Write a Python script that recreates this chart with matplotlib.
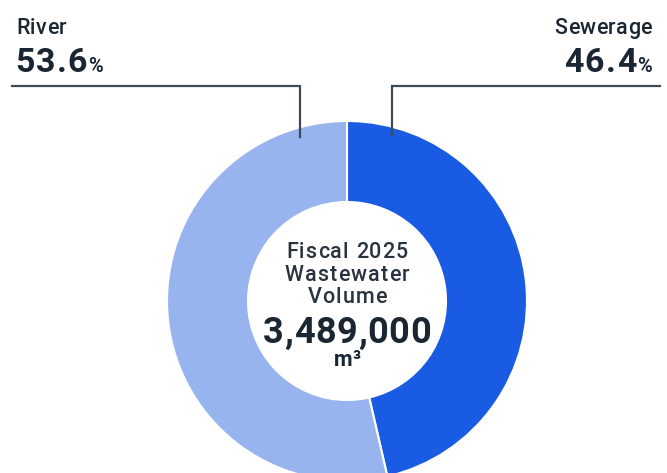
import matplotlib
matplotlib.use("Agg")
import matplotlib.pyplot as plt
from matplotlib.font_manager import FontProperties, findfont, get_font

plt.rcParams['font.family'] = ['Roboto', 'DejaVu Sans']

# Wastewater discharge destinations, fiscal 2025
labels = ["Sewerage", "River"]
shares = [46.4, 53.6]
colors = ["#1a5be3", "#97b4ee"]
total_volume = 3489000
caption = ["Fiscal 2025", "Wastewater", "Volume"]
unit = "m³"

W, H = 667, 473
DPI = 100
TEXT = "#1b2633"
LINE = "#3e4a55"


def py(y):
    # pixel row (top-down) -> axis y (bottom-up)
    return H - y


def advances(s, size, weight):
    prop = FontProperties(family="Roboto", size=size, weight=weight)
    font = get_font(findfont(prop))
    font.set_size(size, DPI)
    return [font.load_char(ord(ch)).linearHoriAdvance / 65536 for ch in s]


def spaced_text(ax, x, y, s, size, weight="bold", track=0.0, ha="left",
                color=TEXT):
    """Draw s one glyph at a time with extra letter spacing; returns (x0, x1)."""
    adv = advances(s, size, weight)
    total = sum(adv) + track * (len(s) - 1)
    if ha == "center":
        x0 = x - total / 2
    elif ha == "right":
        x0 = x - total
    else:
        x0 = x
    pos = x0
    for ch, a in zip(s, adv):
        ax.text(pos, py(y), ch, ha="left", va="baseline", fontsize=size,
                fontweight=weight, color=color)
        pos += a + track
    return x0, x0 + total


fig = plt.figure(figsize=(W / DPI, H / DPI), dpi=DPI)
ax = fig.add_axes([0, 0, 1, 1])

ax.pie(shares, colors=colors, startangle=90, counterclock=False,
       center=(347, py(301)), radius=180,
       wedgeprops=dict(width=81, edgecolor="white", linewidth=1.5))
ax.set_xlim(0, W)
ax.set_ylim(0, H)
ax.set_aspect("equal")
ax.axis("off")

# leader lines from the headings down to the ring
ax.plot([12, 300, 300], [py(86), py(86), py(137)], color=LINE, lw=1.6,
        solid_joinstyle="miter")
ax.plot([660, 392, 392], [py(86), py(86), py(135)], color=LINE, lw=1.6,
        solid_joinstyle="miter")

# headings
spaced_text(ax, 16, 34, labels[1], 15.5, weight="medium", track=0.4)
spaced_text(ax, 652, 34, labels[0], 15.5, weight="medium", track=0.4,
            ha="right")

# left value: number then a smaller percent sign
_, x1 = spaced_text(ax, 15, 72, f"{shares[1]:.1f}", 24.5, track=1.2)
spaced_text(ax, x1 + 1, 72, "%", 14.5)

# right value: percent sign flush right, number to its left
x0, _ = spaced_text(ax, 652, 72, "%", 14.5, ha="right")
spaced_text(ax, x0 - 1, 72, f"{shares[0]:.1f}", 24.5, track=1.2, ha="right")

# centre caption
cx = 347
for txt, y in zip(caption, [258, 281, 303]):
    spaced_text(ax, cx, y, txt, 15.5, weight="medium", track=1.1, ha="center",
                color="#28333f")
spaced_text(ax, cx, 343, f"{total_volume:,}", 26, track=0.6, ha="center")
spaced_text(ax, cx, 366, unit, 15.5, track=0.5, ha="center")

fig.savefig("out.png", dpi=DPI, facecolor="white")
